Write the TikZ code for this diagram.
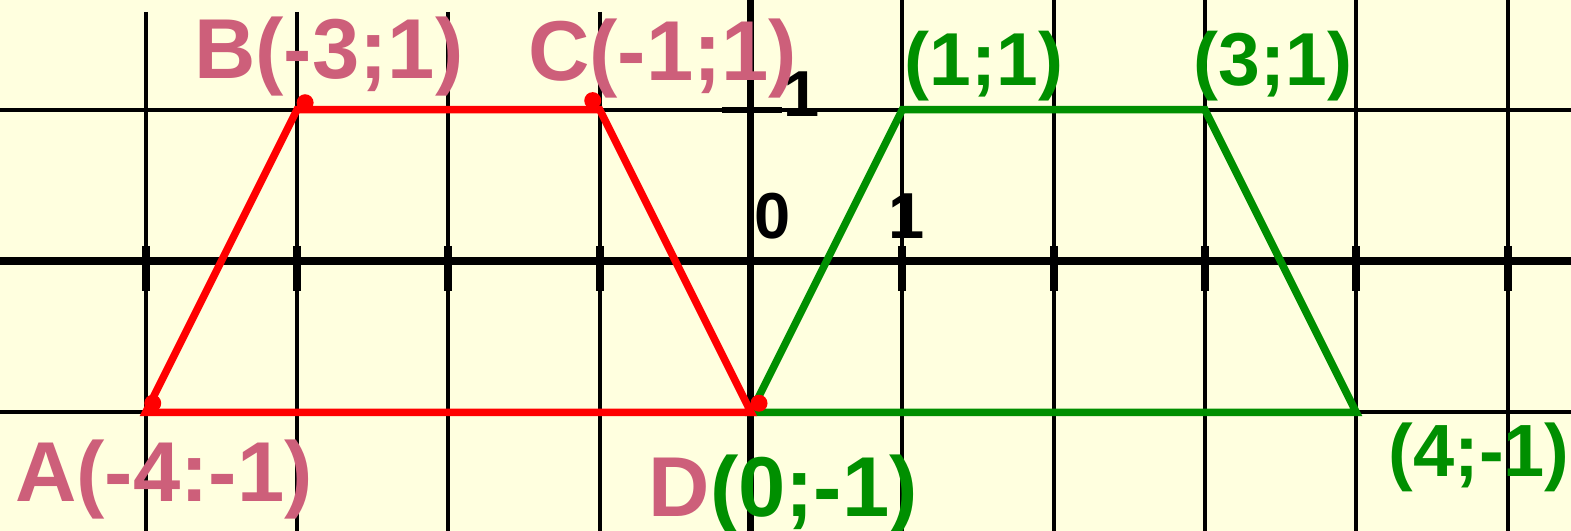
\documentclass[tikz,border=0pt]{standalone}
\usepackage{fontspec}
\setmainfont{Liberation Sans}
\usetikzlibrary{calc}
\definecolor{bgc}{RGB}{255,255,223}
\definecolor{lblred}{RGB}{205,95,122}
\definecolor{grn}{RGB}{0,143,0}
\definecolor{rd}{RGB}{255,0,0}
\tikzset{
  gridline/.style={black,line width=4pt},
  axisline/.style={black,line width=8pt},
  xtick/.style={black,line width=8pt},
  ytick/.style={black,line width=6pt},
  redpoly/.style={rd,line width=7.5pt},
  greenpoly/.style={grn,line width=7.5pt},
  reddot/.style={rd,fill=rd},
  bigred/.style={anchor=base west,inner sep=0pt,text=lblred,font=\bfseries\fontsize{85}{90}\selectfont},
  biggreen/.style={anchor=base west,inner sep=0pt,text=grn,font=\bfseries\fontsize{75}{80}\selectfont},
  numlbl/.style={anchor=base west,inner sep=0pt,text=black,font=\bfseries\fontsize{65}{70}\selectfont}
}
\begin{document}
\begin{tikzpicture}[x=151.3pt,y=151.3pt]
\fill[bgc] (-4.9636,-1.7845) rectangle (5.4197,1.7250);
\useasboundingbox (-4.9636,-1.7845) rectangle (5.4197,1.7250);
% grid
\foreach \i in {-4,...,-1} \draw[gridline] (\i,1.6457) -- (\i,-1.7845);
\foreach \i in {1,...,5} \draw[gridline] (\i,1.7250) -- (\i,-1.7845);
\foreach \j in {1,-1} \draw[gridline] (-4.9636,\j) -- (5.4197,\j);
% axes
\draw[axisline] (-4.9636,0) -- (5.4197,0);
\draw[black,line width=7pt] (0,1.7250) -- (0,-1.7845);
\foreach \i in {-4,...,-1,1,2,...,5} \draw[xtick] (\i,0.0991) -- (\i,-0.1983);
\draw[ytick] (-0.1917,1) -- (0.2049,1);
% axis numbers
\node[numlbl] (n0) at (0.0198,0.1454) {0};
\node[numlbl] (nx1) at (0.9088,0.1454) {1};
\node[numlbl] (ny1) at (0.2115,0.9518) {1};
% vertices
\coordinate (A) at (-4,-1);
\coordinate (B) at (-3,1);
\coordinate (C) at (-1,1);
\coordinate (D) at (0,-1);
\coordinate (E) at (1,1);
\coordinate (F) at (3,1);
\coordinate (G) at (4,-1);
% polygons
\draw[greenpoly] (D) -- (E) -- (F) -- (G) -- cycle;
\draw[redpoly] (A) -- (B) -- (C) -- (D) -- cycle;
% dots
\fill[reddot] ($(A)+(0.046,0.06)$) circle[radius=8.5pt];
\fill[reddot] ($(B)+(0.053,0.046)$) circle[radius=8.5pt];
\fill[reddot] ($(C)+(-0.046,0.06)$) circle[radius=8.5pt];
\fill[reddot] ($(D)+(0.053,0.06)$) circle[radius=8.5pt];
% labels
\node[bigred] (lB) at (-3.681,1.2029) {B(-3;1)};
\node[bigred] (lC) at (-1.474,1.196) {C(-1;1)};
\node[biggreen] (lE) at (1.0145,1.163) {(1;1)};
\node[biggreen] (lF) at (2.9247,1.163) {(3;1)};
\node[bigred] (lA) at (-4.8645,-1.5928) {A(-4:-1)};
\node[bigred] (lD) at (-0.6775,-1.692) {D\textcolor{grn}{(0;-1)}};
\node[biggreen,font=\bfseries\fontsize{74}{80}\selectfont] (lG) at (4.2135,-1.4276) {(4;-1)};
\end{tikzpicture}
\end{document}
